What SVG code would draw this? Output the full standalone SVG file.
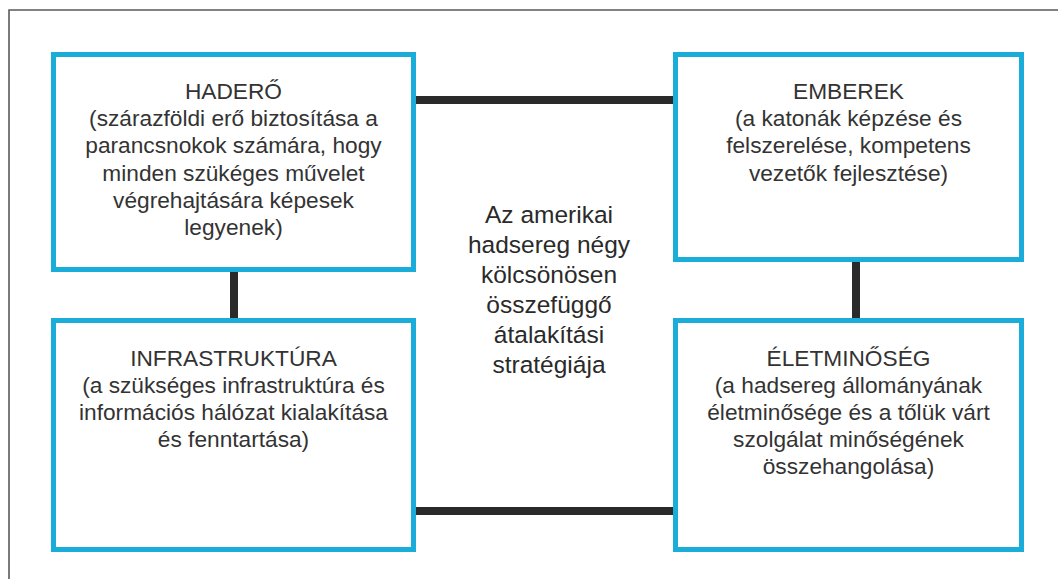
<svg xmlns="http://www.w3.org/2000/svg" width="1058" height="579" viewBox="0 0 1058 579">
<style>
.frame{fill:none;stroke:#5a5a5a;stroke-width:1.6}
.box{fill:#fff;stroke:#1aadda;stroke-width:5}
.conn{stroke:#2a2a2a;stroke-width:8;fill:none}
.t{font-family:"Liberation Sans",Arial,sans-serif;font-size:22.7px;fill:#333;text-anchor:middle}
.c{font-family:"Liberation Sans",Arial,sans-serif;font-size:24.5px;fill:#2a2a2a;text-anchor:middle}
</style>
<rect width="1058" height="579" fill="#fff"/>
<path class="frame" d="M9,579 V10 H1058"/>
<g id="connectors">
<line class="conn" x1="416" y1="100" x2="673" y2="100"/>
<line class="conn" x1="234" y1="272" x2="234" y2="318"/>
<line class="conn" x1="856" y1="262" x2="856" y2="318"/>
<line class="conn" x1="416" y1="511" x2="673" y2="511"/>
</g>
<g id="hadero">
<rect class="box" x="53.5" y="54.5" width="360" height="215"/>
<text class="t" x="233.5" y="99">HADERŐ</text>
<text class="t" x="233.5" y="126.2">(szárazföldi erő biztosítása a</text>
<text class="t" x="233.5" y="153.4">parancsnokok számára, hogy</text>
<text class="t" x="233.5" y="180.6">minden szükéges művelet</text>
<text class="t" x="233.5" y="207.8">végrehajtására képesek</text>
<text class="t" x="233.5" y="235">legyenek)</text>
</g>
<g id="emberek">
<rect class="box" x="675.5" y="54.5" width="346" height="205"/>
<text class="t" x="848.5" y="99">EMBEREK</text>
<text class="t" x="848.5" y="126.2">(a katonák képzése és</text>
<text class="t" x="848.5" y="153.4">felszerelése, kompetens</text>
<text class="t" x="848.5" y="180.6">vezetők fejlesztése)</text>
</g>
<g id="infrastruktura">
<rect class="box" x="53.5" y="320.5" width="360" height="229"/>
<text class="t" x="233.5" y="366">INFRASTRUKTÚRA</text>
<text class="t" x="233.5" y="393">(a szükséges infrastruktúra és</text>
<text class="t" x="233.5" y="420">információs hálózat kialakítása</text>
<text class="t" x="233.5" y="447">és fenntartása)</text>
</g>
<g id="eletminoseg">
<rect class="box" x="675.5" y="320.5" width="346" height="229"/>
<text class="t" x="848.5" y="366">ÉLETMINŐSÉG</text>
<text class="t" x="848.5" y="393">(a hadsereg állományának</text>
<text class="t" x="848.5" y="420">életminősége és a tőlük várt</text>
<text class="t" x="848.5" y="447">szolgálat minőségének</text>
<text class="t" x="848.5" y="474">összehangolása)</text>
</g>
<g id="center">
<text class="c" x="549" y="223">Az amerikai</text>
<text class="c" x="549" y="253">hadsereg négy</text>
<text class="c" x="549" y="283">kölcsönösen</text>
<text class="c" x="549" y="313">összefüggő</text>
<text class="c" x="549" y="343">átalakítási</text>
<text class="c" x="549" y="373">stratégiája</text>
</g>
</svg>
